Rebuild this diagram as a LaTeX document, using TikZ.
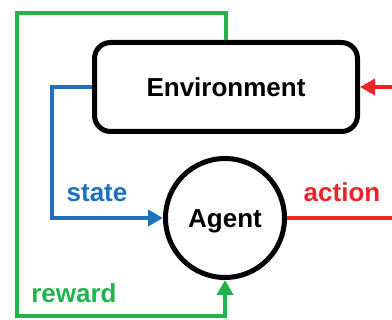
\documentclass[tikz,border=0pt]{standalone}
\usepackage{fontspec}
\setmainfont{Liberation Sans}
\usetikzlibrary{arrows.meta}
\definecolor{cblue}{HTML}{1F6FBF}
\definecolor{cred}{HTML}{EC2427}
\definecolor{cgreen}{HTML}{22B24C}
\tikzset{
  bigfont/.style={font=\fontsize{26}{30}\selectfont\bfseries},
  boxnode/.style={draw=black, line width=5pt, rounded corners=16pt, minimum width=263pt, minimum height=89pt, inner sep=0pt, text height=20pt, text depth=0pt, bigfont},
  circnode/.style={draw=black, line width=5pt, circle, minimum size=119pt, inner sep=0pt, text height=20pt, text depth=0pt, bigfont},
  conn/.style={line width=4pt},
  tip/.style={-{Triangle[length=15pt,width=16pt]}},
  lbl/.style={bigfont, inner sep=0pt, anchor=base}
}
\begin{document}
\begin{tikzpicture}[x=1pt,y=-1pt]
\useasboundingbox (0,0) rectangle (392,320);
\node[boxnode] (env) at (226,87) {Environment};
\node[circnode] (agent) at (225,218) {Agent};
\coordinate (g1) at (17,13);
\coordinate (g2) at (17,316);
\coordinate (b1) at (52,218);
\coordinate (r1) at (394,218);
\coordinate (r2) at (394,87);
\draw[conn, cgreen, tip] (env.north) |- (g1) -- (g2) -| (agent.south);
\draw[conn, cblue, tip] (env.west) -| (b1) -- (agent.west);
\draw[conn, cred] (agent.east) -- (r1);
\draw[conn, cred, tip] (r2) -- (env.east);
\node[lbl, text=cblue] (lstate) at (97,202) {state};
\node[lbl, text=cred] (laction) at (342,202) {action};
\node[lbl, text=cgreen] (lreward) at (74,303) {reward};
\end{tikzpicture}
\end{document}
